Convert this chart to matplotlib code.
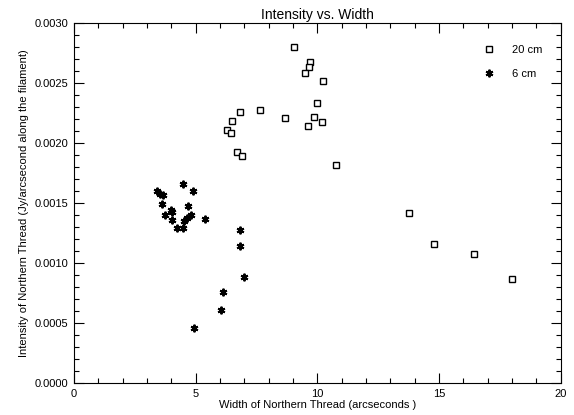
import matplotlib
matplotlib.use("Agg")
import matplotlib.pyplot as plt
from matplotlib.ticker import MultipleLocator, FormatStrFormatter

plt.rcParams['font.family'] = ['Liberation Sans', 'DejaVu Sans']

# 20 cm series (squares)
width_20cm = [9.05, 9.69, 9.65, 9.49, 10.24, 9.97, 9.87, 10.18, 9.60, 8.65,
              7.65, 6.83, 6.49, 6.30, 6.45, 6.68, 6.90, 10.76, 13.76, 14.78,
              16.43, 17.99]
inten_20cm = [0.00280, 0.002678, 0.002636, 0.002581, 0.002514, 0.002331,
              0.002219, 0.002172, 0.002144, 0.002206, 0.002275, 0.002258,
              0.002186, 0.002108, 0.002086, 0.001922, 0.001892, 0.001814,
              0.001414, 0.001156, 0.001072, 0.000867]

# 6 cm series (asterisks)
width_6cm = [3.42, 3.53, 3.64, 4.46, 4.90, 3.63, 3.97, 4.04, 3.74, 4.01,
             4.22, 4.46, 4.53, 4.65, 4.79, 4.69, 5.38, 6.82, 6.82, 6.97,
             6.13, 6.05, 4.94]
inten_6cm = [0.00160, 0.001575, 0.001564, 0.001661, 0.001603, 0.001492,
             0.001444, 0.001422, 0.001403, 0.001361, 0.001292, 0.001292,
             0.001347, 0.001375, 0.001403, 0.001472, 0.001369, 0.001275,
             0.001144, 0.000883, 0.000756, 0.000611, 0.000456]

series_labels = ['20 cm', '6 cm']

fig = plt.figure(figsize=(5.74, 4.15), dpi=100)
ax = fig.add_axes([0.129, 0.0771, 0.848, 0.8675])

ax.plot(width_20cm, inten_20cm, linestyle='none', marker='s', markersize=4.5,
        markerfacecolor='white', markeredgecolor='black', markeredgewidth=1.0,
        label=series_labels[0])
ax.plot(width_6cm, inten_6cm, linestyle='none', marker=(6, 2, 0), markersize=5.5,
        markeredgecolor='black', markeredgewidth=1.4, color='black',
        label=series_labels[1])

ax.set_xlim(0, 20)
ax.set_ylim(0, 0.003)
ax.xaxis.set_major_locator(MultipleLocator(5))
ax.xaxis.set_minor_locator(MultipleLocator(1))
ax.yaxis.set_major_locator(MultipleLocator(0.0005))
ax.yaxis.set_minor_locator(MultipleLocator(0.0001))
ax.xaxis.set_major_formatter(FormatStrFormatter('%d'))
ax.yaxis.set_major_formatter(FormatStrFormatter('%.4f'))
ax.tick_params(which='both', direction='in', top=True, right=True,
               labelsize=8, width=0.8, pad=4)
ax.tick_params(which='major', length=7)
ax.tick_params(which='minor', length=3.5)
for s in ax.spines.values():
    s.set_linewidth(0.8)

ax.set_title('Intensity vs. Width', fontsize=10, pad=3)
ax.set_xlabel('Width of Northern Thread (arcseconds )', fontsize=8, labelpad=1)
ax.set_ylabel('Intensity of Northern Thread (Jy/arcsecond along the filament)',
              fontsize=8, labelpad=4)

ax.legend(loc='upper right', bbox_to_anchor=(0.985, 0.97), frameon=False,
          fontsize=8, numpoints=1, handletextpad=1.35, labelspacing=1.3,
          borderaxespad=0.6, handlelength=1.5)

fig.savefig('out.png', dpi=100)
